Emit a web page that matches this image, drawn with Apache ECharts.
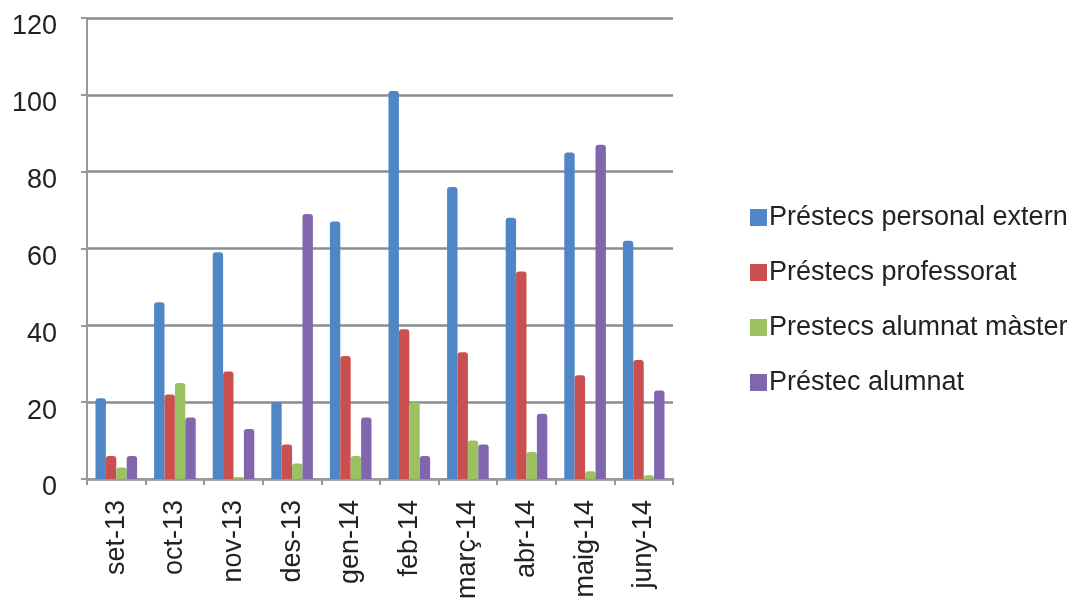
<!DOCTYPE html>
<html>
<head>
<meta charset="utf-8">
<script src="https://cdn.jsdelivr.net/npm/echarts@6/dist/echarts.min.js"></script>
<style>html,body{margin:0;padding:0;background:#fff}#c{width:1070px;height:602px}</style>
</head>
<body>
<div id="c"></div>
<script>
const categories = ['set-13','oct-13','nov-13','des-13','gen-14','feb-14','març-14','abr-14','maig-14','juny-14'];
const seriesNames = ['Préstecs personal extern','Préstecs professorat','Prestecs alumnat màster','Préstec alumnat'];
const personalExtern = [21, 46, 59, 20, 67, 101, 76, 68, 85, 62];
const professorat = [6, 22, 28, 9, 32, 39, 33, 54, 27, 31];
const alumnatMaster = [3, 25, 0.5, 4, 6, 20, 10, 7, 2, 1];
const alumnat = [6, 16, 13, 69, 16, 6, 9, 17, 87, 23];
const yTicks = [0, 20, 40, 60, 80, 100, 120];

const colors = ['#4F86C6', '#C9504F', '#9BC163', '#8066AC'];
const allData = [personalExtern, professorat, alumnatMaster, alumnat];
const FONT = 'Liberation Sans, Arial, sans-serif';

const chart = echarts.init(document.getElementById('c'));
chart.setOption({
  animation: false,
  color: colors,
  grid: { left: 87, right: 397, top: 18, bottom: 120, containLabel: false },
  legend: {
    orient: 'vertical',
    left: 745,
    top: 199,
    itemWidth: 17,
    itemHeight: 17,
    itemGap: 28,
    icon: 'rect',
    textStyle: { fontFamily: FONT, fontSize: 27, color: '#222', padding: [0,0,0,-3] },
    data: seriesNames
  },
  xAxis: {
    type: 'category',
    data: categories,
    axisLine: { show: true, lineStyle: { color: '#999', width: 2 } },
    axisTick: { show: true, length: 6, lineStyle: { color: '#999', width: 2 } },
    axisLabel: { rotate: 90, fontFamily: FONT, fontSize: 27, color: '#222', margin: 21 }
  },
  yAxis: {
    type: 'value',
    min: yTicks[0],
    max: yTicks[yTicks.length - 1],
    interval: 20,
    axisLine: { show: true, lineStyle: { color: '#999', width: 2 } },
    axisTick: { show: true, length: 6, lineStyle: { color: '#999', width: 2 } },
    axisLabel: { fontFamily: FONT, fontSize: 27, color: '#222', margin: 30, verticalAlign: 'top', lineHeight: 18 },
    splitLine: { show: true, lineStyle: { color: '#8c8c8c', width: 2.5 } }
  },
  series: seriesNames.map((n, i) => ({
    name: n,
    type: 'bar',
    data: allData[i],
    barGap: '0%',
    barCategoryGap: '29%',
    itemStyle: { color: colors[i], borderRadius: [3, 3, 0, 0] }
  }))
});
</script>
</body>
</html>
